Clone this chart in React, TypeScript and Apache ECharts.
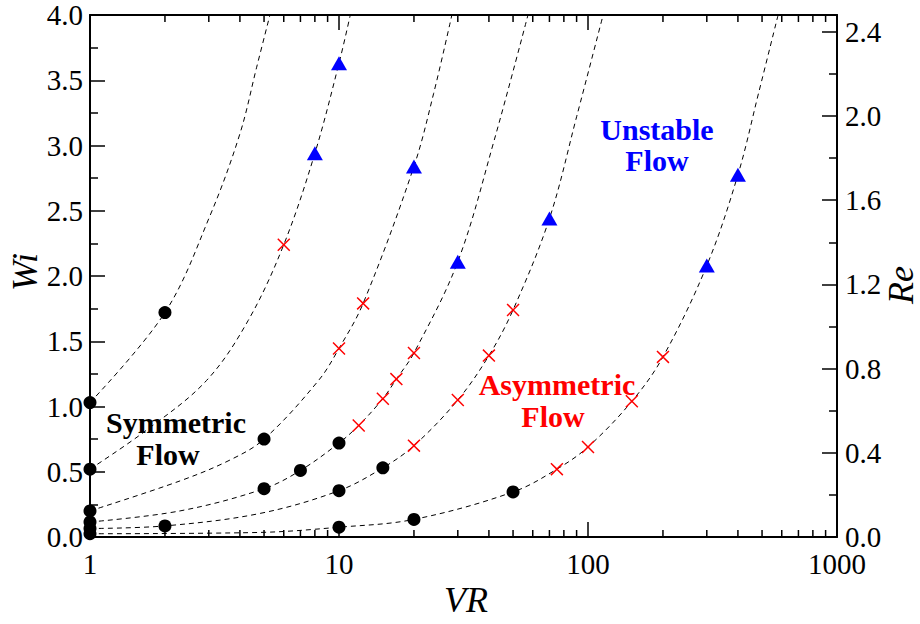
import React, { useEffect, useRef } from 'react';
import * as echarts from 'echarts';

// ---- data (VR, Wi) ----
const curveA = [[1, 1.03], [2, 1.72], [3.03, 2.46], [4.0, 3.09], [4.67, 3.6], [5.28, 4.0]];
const curveB = [[1, 0.52], [1.69, 0.82], [2.94, 1.2], [4.32, 1.66], [6, 2.24], [8, 2.94], [10, 3.63], [11.1, 4.0]];
const curveC = [[1, 0.2], [2.3, 0.43], [3.65, 0.59], [5, 0.75], [8.28, 1.2], [10, 1.445], [12.5, 1.79], [20, 2.84], [24, 3.4], [28.4, 4.0]];
const curveD = [[1, 0.115], [2.3, 0.2], [5, 0.37], [7, 0.51], [10, 0.72], [12, 0.855], [15, 1.06], [17, 1.21], [20, 1.41], [30, 2.11], [42, 3.04], [57.4, 4.0]];
const curveE = [[1, 0.065], [2, 0.085], [4.8, 0.18], [10, 0.355], [15, 0.53], [20, 0.7], [30, 1.05], [40, 1.39], [50, 1.74], [70, 2.44], [90, 3.22], [115, 4.0]];
const curveF = [[1, 0.025], [4.8, 0.035], [10, 0.075], [20, 0.135], [50, 0.345], [75, 0.52], [100, 0.69], [150, 1.04], [200, 1.38], [300, 2.08], [400, 2.775], [484, 3.4], [580, 4.0]];

const symmetricPts = [
  [1, 1.03], [2, 1.72],
  [1, 0.52], [5, 0.75],
  [1, 0.2], [5, 0.37], [7, 0.51], [10, 0.72],
  [1, 0.115], [10, 0.355], [15, 0.53],
  [1, 0.065], [2, 0.085],
  [1, 0.025], [10, 0.075], [20, 0.135], [50, 0.345],
];
const asymmetricPts = [
  [6, 2.24], [12.5, 1.79], [10, 1.445], [20, 1.41], [17, 1.21], [15, 1.06], [12, 0.855],
  [20, 0.7], [30, 1.05], [40, 1.39], [50, 1.74],
  [75, 0.52], [100, 0.69], [150, 1.04], [200, 1.38],
];
const unstablePts = [[10, 3.63], [8, 2.94], [20, 2.84], [30, 2.11], [70, 2.44], [300, 2.08], [400, 2.775]];

const minorTickVR = [2, 3, 4, 5, 6, 7, 8, 9, 20, 30, 40, 50, 60, 70, 80, 90, 200, 300, 400, 500, 600, 700, 800, 900];

const WI_MIN = 0;
const WI_MAX = 4;
const RE_MAX = 2.48;

const FONT = 'Liberation Serif';
const CROSS = 'path://M0,0.8L0.8,0L5,4.2L9.2,0L10,0.8L5.8,5L10,9.2L9.2,10L5,5.8L0.8,10L0,9.2L4.2,5Z';

const axisLineStyle = { show: true, onZero: false, lineStyle: { color: '#000', width: 2 } };
const tickStyle = { show: true, inside: true, length: 15, lineStyle: { color: '#000', width: 1.5 } };
const labelStyle = { color: '#000', fontSize: 29, fontFamily: FONT, lineHeight: 22 };

const curve = (data: number[][]) => ({
  type: 'line',
  xAxisIndex: 0,
  yAxisIndex: 0,
  data,
  showSymbol: false,
  symbol: 'none',
  smooth: 0.35,
  silent: true,
  z: 2,
  lineStyle: { color: '#000', width: 1, type: [5, 4] },
});

const txt = (text: string, x: number, y: number, color: string, opts: any = {}) => ({
  type: 'text',
  x,
  y,
  z: 10,
  rotation: opts.rotation || 0,
  style: {
    text,
    fill: color,
    fontFamily: FONT,
    fontSize: opts.fontSize || 30,
    fontWeight: opts.fontWeight || 'bold',
    fontStyle: opts.fontStyle || 'normal',
    lineHeight: opts.lineHeight || 24,
    textAlign: 'center',
    textVerticalAlign: 'middle',
  },
});

const option: any = {
  animation: false,
  backgroundColor: '#fff',
  textStyle: { fontFamily: FONT },
  grid: { left: 90, right: 83, top: 15, bottom: 87, containLabel: false },
  xAxis: [
    {
      type: 'log', logBase: 10, min: 1, max: 1000, position: 'bottom',
      axisLine: axisLineStyle, axisTick: tickStyle,
      axisLabel: { ...labelStyle, margin: 16, formatter: (v: number) => String(Math.round(v)) },
      splitLine: { show: false },
    },
    {
      type: 'log', logBase: 10, min: 1, max: 1000, position: 'top',
      axisLine: axisLineStyle, axisTick: tickStyle,
      axisLabel: { show: false }, splitLine: { show: false },
    },
  ],
  yAxis: [
    {
      type: 'value', min: WI_MIN, max: WI_MAX, interval: 0.5, position: 'left',
      axisLine: axisLineStyle, axisTick: tickStyle,
      minorTick: { show: true, splitNumber: 2, length: 8, lineStyle: { color: '#000', width: 1.5 } },
      axisLabel: { ...labelStyle, margin: 7, formatter: (v: number) => v.toFixed(1) },
      splitLine: { show: false }, minorSplitLine: { show: false },
    },
    {
      type: 'value', min: 0, max: RE_MAX, interval: 0.4, position: 'right',
      axisLine: axisLineStyle, axisTick: tickStyle,
      minorTick: { show: true, splitNumber: 2, length: 8, lineStyle: { color: '#000', width: 1.5 } },
      axisLabel: { ...labelStyle, margin: 8, showMaxLabel: false, formatter: (v: number) => (Math.abs(v / 0.4 - Math.round(v / 0.4)) < 1e-6 ? v.toFixed(1) : '') },
      splitLine: { show: false }, minorSplitLine: { show: false },
    },
  ],
  series: [
    {
      type: 'custom',
      xAxisIndex: 0,
      yAxisIndex: 0,
      silent: true,
      clip: false,
      data: minorTickVR.map((v) => [v, 0]),
      encode: { x: 0, y: 1 },
      renderItem: (_p: any, api: any) => {
        const v = api.value(0);
        const b = api.coord([v, WI_MIN]);
        const t = api.coord([v, WI_MAX]);
        const st = { stroke: '#000', lineWidth: 1.5 };
        return {
          type: 'group',
          children: [
            { type: 'line', shape: { x1: b[0], y1: b[1], x2: b[0], y2: b[1] - 7 }, style: st },
            { type: 'line', shape: { x1: t[0], y1: t[1], x2: t[0], y2: t[1] + 7 }, style: st },
          ],
        };
      },
    },
    curve(curveA),
    curve(curveB),
    curve(curveC),
    curve(curveD),
    curve(curveE),
    curve(curveF),
    {
      type: 'scatter', xAxisIndex: 0, yAxisIndex: 0, data: symmetricPts,
      symbol: 'circle', symbolSize: 13, itemStyle: { color: '#000', opacity: 1 }, z: 5, silent: true,
    },
    {
      type: 'scatter', xAxisIndex: 0, yAxisIndex: 0, data: asymmetricPts,
      symbol: CROSS, symbolSize: 13, itemStyle: { color: '#ff0000', opacity: 1 }, z: 5, silent: true,
    },
    {
      type: 'scatter', xAxisIndex: 0, yAxisIndex: 0, data: unstablePts,
      symbol: 'triangle', symbolSize: [16, 14], itemStyle: { color: '#0000ff', opacity: 1 }, z: 5, silent: true,
    },
  ],
  graphic: [
    txt('VR', 466, 600, '#000', { fontSize: 36, fontWeight: 'normal', fontStyle: 'italic', lineHeight: 30 }),
    txt('Wi', 25, 272, '#000', { fontSize: 36, fontWeight: 'normal', fontStyle: 'italic', lineHeight: 30, rotation: Math.PI / 2 }),
    txt('Re', 901, 285, '#000', { fontSize: 36, fontWeight: 'normal', fontStyle: 'italic', lineHeight: 30, rotation: Math.PI / 2 }),
    txt('Symmetric', 176, 422, '#000'),
    txt('Flow', 168, 454, '#000'),
    txt('Unstable', 657, 129, '#0000ff'),
    txt('Flow', 657, 160, '#0000ff'),
    txt('Asymmetric', 557, 384, '#ff0000'),
    txt('Flow', 553, 416, '#ff0000'),
  ],
};

export default function App() {
  const ref = useRef<HTMLDivElement>(null);
  useEffect(() => {
    const chart = echarts.init(ref.current as HTMLDivElement, null, { renderer: 'svg' });
    chart.setOption(option);
    return () => chart.dispose();
  }, []);
  return (
    <div
      ref={ref}
      style={{ position: 'fixed', left: 0, top: 0, width: 920, height: 624, background: '#fff' }}
    />
  );
}
